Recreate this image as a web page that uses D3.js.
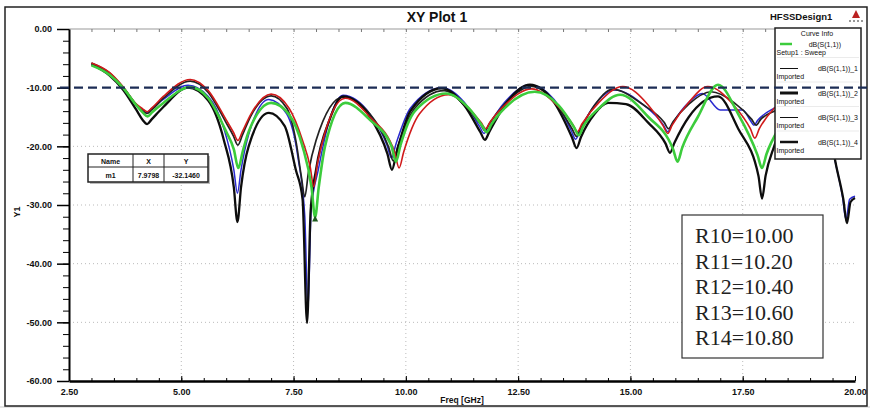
<!DOCTYPE html>
<html>
<head>
  <meta charset="utf-8">
  <title>XY Plot 1</title>
  <script src="https://d3js.org/d3.v7.min.js"></script>
  <style>
    body { margin: 0; background: #fff; }
    svg text { font-family: "Liberation Sans", Arial, sans-serif; fill: #111; }
    .tick text { font-size: 9px; font-weight: bold; }
  </style>
</head>
<body>
<div id="chart"></div>
<script>
  "use strict"

  // axis ticks
  var freqTicks = [2.5, 5, 7.5, 10, 12.5, 15, 17.5, 20];
  var dbTicks = [0, -10, -20, -30, -40, -50, -60];

  // curves: [freq GHz, dB]
  var sweep = [[3.0,-6.2],[3.4,-7.8],[3.7,-10.0],[4.0,-13.0],[4.15,-14.3],[4.25,-14.9],[4.35,-14.2],[4.6,-12.6],
    [5.2,-9.9],[5.6,-11.8],[6.0,-17.5],[6.17,-20.5],[6.27,-23.7],[6.37,-20.8],[6.5,-17.5],[7.0,-12.6],[7.4,-14.6],
    [7.7,-20],[7.9,-27],[7.98,-32.1],[8.06,-27],[8.2,-20],[8.65,-12.6],[9.2,-15.5],[9.68,-20],[9.78,-22.6],
    [9.88,-19.8],[10.2,-14],[10.9,-11.0],[11.4,-13.5],[11.7,-16.5],[11.8,-17.6],[11.9,-16.3],[12.2,-13.5],
    [12.87,-10.7],[13.4,-13],[13.75,-16.8],[13.85,-18.1],[13.95,-16.6],[14.3,-13.5],[14.77,-11.2],[15.4,-15],
    [15.95,-20.5],[16.05,-22.6],[16.15,-20.3],[16.5,-15],[16.95,-9.5],[17.4,-14.5],[17.83,-21.5],[17.93,-23.7],
    [18.03,-21.3],[18.3,-17],[18.8,-13],[19.4,-12.5],[20,-14]];
  var imported1 = [[3.0,-5.8],[3.4,-7.4],[3.7,-9.8],[4.0,-12.8],[4.14,-13.6],[4.24,-14.1],[4.34,-13.5],[4.6,-11.5],
    [5.2,-8.6],[5.6,-10.5],[6.0,-15.5],[6.16,-17.6],[6.26,-19.0],[6.36,-17.5],[6.55,-14.5],[7.0,-11.1],[7.4,-13.5],
    [7.7,-19],[7.87,-23.5],[7.95,-26.9],[8.03,-23],[8.15,-19],[8.65,-11.8],[9.2,-15],[9.75,-21],[9.85,-23.7],
    [9.95,-21],[10.3,-14.5],[10.95,-11.2],[11.4,-13.5],[11.68,-16],[11.78,-17.0],[11.88,-15.8],[12.2,-13],
    [12.8,-10.2],[13.3,-12.5],[13.72,-16.3],[13.82,-17.5],[13.92,-16.2],[14.3,-12.5],[14.83,-9.8],[15.4,-13],
    [15.73,-16.5],[15.83,-17.8],[15.93,-16.4],[16.3,-12.5],[16.72,-9.8],[17.3,-13],[17.67,-17],[17.77,-18.6],
    [17.87,-17],[18.2,-13.5],[18.8,-11],[19.4,-12],[20,-14]];
  var imported2 = [[3.0,-6.0],[3.4,-7.9],[3.7,-10.3],[4.0,-13.8],[4.14,-15.5],[4.24,-16.2],[4.34,-15.4],[4.6,-13.3],
    [5.15,-10.0],[5.6,-12.2],[5.95,-19],[6.17,-27],[6.25,-32.9],[6.33,-27],[6.5,-20],[6.95,-14.3],[7.3,-16.5],
    [7.55,-24],[7.7,-29],[7.8,-50.1],[7.88,-31],[8.0,-24],[8.3,-15.5],[8.6,-11.5],[9.2,-15],[9.59,-21.3],
    [9.69,-24.0],[9.79,-21.2],[10.1,-14],[10.8,-10.1],[11.3,-13],[11.66,-17.6],[11.76,-18.9],[11.86,-17.5],
    [12.2,-13],[12.76,-9.5],[13.3,-12.5],[13.7,-18.5],[13.8,-20.3],[13.9,-18.4],[14.2,-14.5],[14.5,-12.6],
    [14.9,-12.8],[15.4,-16],[15.78,-19.5],[15.88,-21.1],[15.98,-19.4],[16.3,-15],[16.95,-11.5],[17.4,-17],
    [17.85,-25],[17.93,-28.9],[18.01,-25],[18.2,-20],[18.7,-12],[19.3,-14],[19.6,-24],[19.74,-29],[19.82,-33.1],
    [19.9,-29.5],[20,-28.8]];
  var imported3 = [[3.0,-5.9],[3.4,-7.6],[3.7,-9.9],[4.0,-12.9],[4.12,-13.8],[4.22,-14.3],[4.32,-13.7],[4.6,-12],
    [5.15,-9.6],[5.6,-11.5],[5.95,-17],[6.17,-24],[6.25,-28],[6.33,-24],[6.5,-18],[6.95,-12.0],[7.35,-14.5],
    [7.6,-22],[7.75,-32],[7.82,-48],[7.89,-31],[8.05,-24],[8.3,-15.5],[8.6,-11.3],[9.2,-14.5],[9.58,-19.8],
    [9.68,-22.0],[9.78,-19.6],[10.1,-13.5],[10.8,-10.0],[11.3,-12.5],[11.64,-16.6],[11.74,-17.8],[11.84,-16.5],
    [12.2,-12.5],[12.75,-9.5],[13.3,-12],[13.68,-17.3],[13.78,-18.8],[13.88,-17.2],[14.2,-13],[14.65,-10.4],
    [15.3,-13],[15.73,-16.3],[15.83,-17.5],[15.93,-16.2],[16.3,-12.5],[16.6,-11.0],[17.0,-13.8],[17.5,-13.8],
    [17.67,-15.6],[17.75,-16.4],[17.83,-15.6],[18.2,-13.5],[18.8,-12],[19.3,-15],[19.6,-24],[19.72,-28.5],
    [19.8,-32.5],[19.88,-29],[20,-28.5]];
  var imported4 = [[3.0,-5.8],[3.4,-7.5],[3.7,-9.9],[4.0,-12.9],[4.14,-13.9],[4.24,-14.4],[4.34,-13.8],[4.6,-11.8],
    [5.2,-8.9],[5.6,-10.8],[6.0,-16],[6.16,-18.2],[6.26,-19.8],[6.36,-18.1],[6.55,-14.8],[7.0,-11.4],[7.35,-13.5],
    [7.55,-19],[7.67,-25],[7.75,-28.6],[7.83,-24.5],[8.0,-19],[8.6,-11.6],[9.2,-14.5],[9.62,-20.2],[9.72,-22.5],
    [9.82,-20],[10.2,-13.5],[10.85,-10.5],[11.3,-13],[11.66,-16.2],[11.76,-17.3],[11.86,-16.1],[12.2,-12.8],
    [12.8,-9.8],[13.3,-12.3],[13.7,-17],[13.8,-18.3],[13.9,-16.9],[14.2,-13],[14.6,-10.3],[15.3,-13],
    [15.75,-15.9],[15.85,-17],[15.95,-15.8],[16.3,-12.8],[16.8,-10.7],[17.3,-12.5],[17.7,-15.4],[17.8,-16.4],
    [17.9,-15.4],[18.2,-14],[18.8,-12],[19.4,-12],[20,-13.5]];

  var threshold = -10;

  var legendNames = ["dB(S(1,1))", "dB(S(1,1))_1", "dB(S(1,1))_2", "dB(S(1,1))_3", "dB(S(1,1))_4"];
  var legendSubs = ["Setup1 : Sweep", "Imported", "Imported", "Imported", "Imported"];

  var markerName = "m1", markerX = 7.9798, markerY = -32.1460;

  var rNames = ["R10", "R11", "R12", "R13", "R14"];
  var rValues = [10.00, 10.20, 10.40, 10.60, 10.80];

  var W = 870, H = 408;
  var fmt = d => d.toFixed(2);
  var svg = d3.select('#chart').append('svg').attr('width', W).attr('height', H);

  svg.append('rect').attr('x', 0).attr('y', 406).attr('width', W).attr('height', 2).attr('fill', '#e4e4e4');
  svg.append('rect').attr('x', 5).attr('y', 7).attr('width', 862).attr('height', 399)
     .attr('fill', 'none').attr('stroke', '#222').attr('stroke-width', 1.5);

  var x = d3.scaleLinear().domain([2.5, 20]).range([69, 855]);
  var y = d3.scaleLinear().domain([-60, 0]).range([381, 29]);

  // title
  svg.append('text').attr('x', 437).attr('y', 22).attr('text-anchor', 'middle')
     .style('font-size', '14px').style('font-weight', 'bold').text('XY Plot 1');
  svg.append('text').attr('x', 770).attr('y', 20)
     .style('font-size', '9.5px').style('font-weight', 'bold').text('HFSSDesign1');
  svg.append('path').attr('d', 'M852,18 L856,10 L860,18 Z').attr('fill', '#b22');
  svg.append('line').attr('x1', 849).attr('x2', 864).attr('y1', 21).attr('y2', 21)
     .attr('stroke', '#333').attr('stroke-dasharray', '2,2');

  // grid
  var grid = svg.append('g').attr('stroke', '#bbb').attr('stroke-dasharray', '1,3');
  grid.selectAll('.gx').data(freqTicks.slice(1, -1)).enter().append('line')
      .attr('x1', d => x(d)).attr('x2', d => x(d)).attr('y1', y(0)).attr('y2', y(-60));
  grid.selectAll('.gy').data(dbTicks.slice(2, -1)).enter().append('line')
      .attr('x1', x(2.5)).attr('x2', x(20)).attr('y1', d => y(d)).attr('y2', d => y(d));

  svg.append('line').attr('x1', x(2.5)).attr('x2', x(20)).attr('y1', y(0)).attr('y2', y(0))
     .attr('stroke', '#999');

  // minor ticks
  svg.append('g').attr('transform', 'translate(69,0)')
     .call(d3.axisLeft(y).tickValues(d3.range(0, -61, -2)).tickSize(6).tickFormat(''))
     .call(g => g.select('.domain').remove());
  svg.append('g').attr('transform', 'translate(0,381)')
     .call(d3.axisBottom(x).tickValues(d3.range(2.5, 20.01, 0.5)).tickSize(-3).tickFormat(''))
     .call(g => g.select('.domain').remove());
  svg.append('g').attr('transform', 'translate(0,29)')
     .call(d3.axisTop(x).tickValues(d3.range(2.5, 20.01, 0.5)).tickSize(-3).tickFormat(''))
     .call(g => g.select('.domain').remove()).selectAll('line').attr('stroke', '#777');

  // major axes
  var yAxis = svg.append('g').attr('transform', 'translate(69,0)')
     .call(d3.axisLeft(y).tickValues(dbTicks).tickSize(12).tickSizeOuter(0).tickPadding(5).tickFormat(fmt));
  yAxis.select('.domain').attr('stroke-width', 2);
  yAxis.selectAll('.tick line').attr('stroke-width', 1.5);

  var xAxis = svg.append('g').attr('transform', 'translate(0,381)')
     .call(d3.axisBottom(x).tickValues(freqTicks).tickSize(-5).tickSizeOuter(0).tickPadding(8).tickFormat(fmt));
  xAxis.select('.domain').attr('stroke-width', 2.5);

  svg.append('text').attr('x', 462).attr('y', 403).attr('text-anchor', 'middle')
     .style('font-size', '8.5px').style('font-weight', 'bold').text('Freq [GHz]');
  svg.append('text').attr('transform', 'translate(20,212) rotate(-90)').attr('text-anchor', 'middle')
     .style('font-size', '9px').style('font-weight', 'bold').text('Y1');

  // curves
  var line = d3.line().x(d => x(d[0])).y(d => y(d[1])).curve(d3.curveMonotoneX);
  var series = [
    {data: imported3, color: '#2a2ad0', w: 1.5},
    {data: imported4, color: '#222', w: 1.7},
    {data: imported2, color: '#0d0d0d', w: 2.3},
    {data: imported1, color: '#d01a1a', w: 1.6},
    {data: sweep, color: '#3ccc3c', w: 2.6}
  ];
  svg.selectAll('.curve').data(series).enter().append('path')
     .attr('class', 'curve')
     .attr('d', d => line(d.data))
     .attr('fill', 'none')
     .attr('stroke', d => d.color)
     .attr('stroke-width', d => d.w)
     .attr('stroke-linejoin', 'round');

  // marker m1
  svg.append('path')
     .attr('d', 'M' + x(markerX) + ',' + (y(markerY) - 2) + ' l-3,6 l6,0 Z')
     .attr('fill', '#1d5a1d');

  // marker table
  var mt = svg.append('g');
  mt.append('rect').attr('x', 90).attr('y', 156).attr('width', 120).attr('height', 28).attr('fill', '#bbb');
  mt.append('rect').attr('x', 88).attr('y', 154).attr('width', 120).attr('height', 28)
    .attr('fill', '#fff').attr('stroke', '#222').attr('stroke-width', 1.5);
  mt.append('line').attr('x1', 88).attr('x2', 208).attr('y1', 167).attr('y2', 167).attr('stroke', '#222');
  [133, 164].forEach(function(cx) {
    mt.append('line').attr('x1', cx).attr('x2', cx).attr('y1', 154).attr('y2', 182).attr('stroke', '#222');
  });
  var cols = [110.5, 148.5, 186];
  var head = ['Name', 'X', 'Y'];
  var row = [markerName, markerX.toFixed(4), markerY.toFixed(4)];
  head.forEach(function(t, i) {
    mt.append('text').attr('x', cols[i]).attr('y', 163.5).attr('text-anchor', 'middle')
      .style('font-size', '7px').style('font-weight', 'bold').text(t);
    mt.append('text').attr('x', cols[i]).attr('y', 177.5).attr('text-anchor', 'middle')
      .style('font-size', '7px').style('font-weight', 'bold').text(row[i]);
  });

  // legend (curve info)
  var lg = svg.append('g');
  lg.append('rect').attr('x', 775).attr('y', 28).attr('width', 86).attr('height', 131)
    .attr('fill', '#fff').attr('stroke', '#222').attr('stroke-width', 1.5);
  lg.append('text').attr('x', 817).attr('y', 35.5).attr('text-anchor', 'middle')
    .style('font-size', '7px').text('Curve Info');
  var legendStroke = [{c: '#3ccc3c', w: 2.5}, {c: '#111', w: 1}, {c: '#111', w: 3}, {c: '#111', w: 1}, {c: '#111', w: 2.5}];
  legendNames.forEach(function(n, i) {
    var ly = 44 + i * 24.5;
    lg.append('line').attr('x1', 780).attr('x2', i ? 798 : 792).attr('y1', ly).attr('y2', ly)
      .attr('stroke', legendStroke[i].c).attr('stroke-width', legendStroke[i].w);
    lg.append('text').attr('x', i ? 858 : 841).attr('y', ly + 2.5).attr('text-anchor', 'end')
      .style('font-size', '7px').text(n);
    lg.append('text').attr('x', 776.5).attr('y', ly + 10.5)
      .style('font-size', '7px').text(legendSubs[i]);
    if (i < legendNames.length - 1) {
      lg.append('line').attr('x1', 777).attr('x2', 859).attr('y1', ly + 13.5).attr('y2', ly + 13.5)
        .attr('stroke', '#ddd').attr('stroke-width', 0.6);
    }
  });

  // -10 dB reference line
  svg.append('line').attr('x1', 60).attr('x2', 870).attr('y1', y(threshold)).attr('y2', y(threshold))
     .attr('stroke', '#1c2d55').attr('stroke-width', 2.2).attr('stroke-dasharray', '9,5');

  // R values box
  var rb = svg.append('g');
  rb.append('rect').attr('x', 682).attr('y', 215).attr('width', 141).attr('height', 143)
    .attr('fill', '#fff').attr('stroke', '#333').attr('stroke-width', 1.2);
  rb.selectAll('text').data(rNames).enter().append('text')
    .attr('x', 695).attr('y', (d, i) => 243 + i * 25.5)
    .style('font-family', '"Liberation Serif", "Times New Roman", serif')
    .style('font-size', '22px').style('fill', '#222')
    .text((d, i) => d + '=' + rValues[i].toFixed(2));
</script>
</body>
</html>
